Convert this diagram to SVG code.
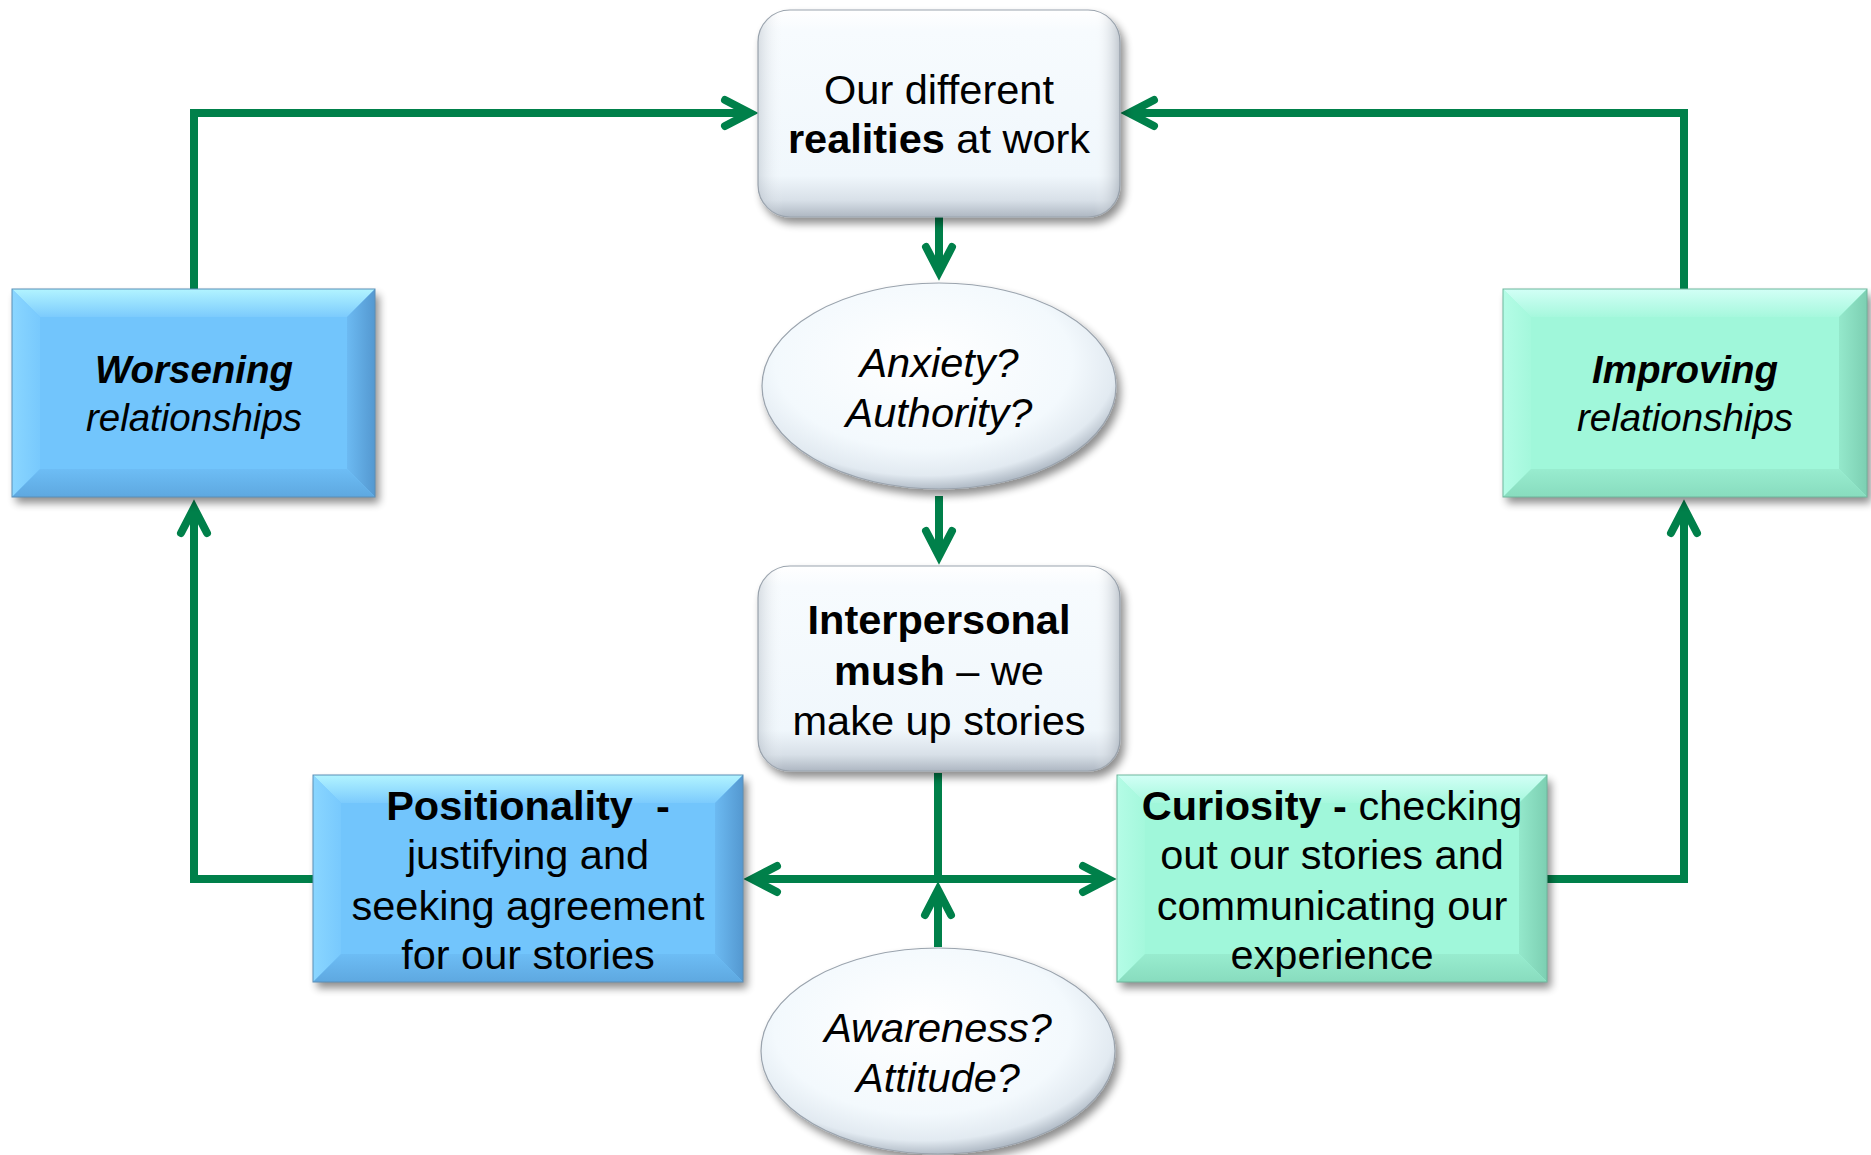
<svg xmlns="http://www.w3.org/2000/svg" width="1871" height="1155" viewBox="0 0 1871 1155">
<defs>
<style>
.t{font-family:"Liberation Sans",Arial,sans-serif;font-size:41.5px;fill:#000;text-anchor:middle}
.s{font-size:38.5px}
.b{font-weight:bold}
.i{font-style:italic}
.con{fill:none;stroke:#00804a;stroke-width:8;stroke-linejoin:miter;marker-end:url(#arr)}
.conp{fill:none;stroke:#00804a;stroke-width:8}
.wbox{fill:url(#gW);stroke:#9aa3ad;stroke-width:1.2}
.wov{fill:url(#gWh);stroke:none}
.ell{fill:url(#gE);stroke:#9aa3ad;stroke-width:1.2}
</style>
<filter id="sh" x="-10%" y="-10%" width="125%" height="135%">
<feGaussianBlur in="SourceAlpha" stdDeviation="4"/>
<feOffset dx="4" dy="6"/>
<feComponentTransfer><feFuncA type="linear" slope="0.45"/></feComponentTransfer>
<feMerge><feMergeNode/><feMergeNode in="SourceGraphic"/></feMerge>
</filter>
<linearGradient id="gW" x1="0" y1="0" x2="0" y2="1">
<stop offset="0" stop-color="#ffffff"/>
<stop offset="0.1" stop-color="#f7fbfe"/>
<stop offset="0.8" stop-color="#f0f7fc"/>
<stop offset="0.92" stop-color="#d8e0e8"/>
<stop offset="1" stop-color="#aeb7c2"/>
</linearGradient>
<linearGradient id="gWh" x1="0" y1="0" x2="1" y2="0">
<stop offset="0" stop-color="#8e98a4" stop-opacity="0.3"/>
<stop offset="0.07" stop-color="#ffffff" stop-opacity="0"/>
<stop offset="0.93" stop-color="#ffffff" stop-opacity="0"/>
<stop offset="1" stop-color="#7f8995" stop-opacity="0.45"/>
</linearGradient>
<radialGradient id="gE" cx="0.46" cy="0.4" r="0.6" fx="0.45" fy="0.35">
<stop offset="0" stop-color="#ffffff"/>
<stop offset="0.7" stop-color="#f3f9fd"/>
<stop offset="0.9" stop-color="#e2eaf1"/>
<stop offset="1" stop-color="#b3bdc8"/>
</radialGradient>
<linearGradient id="bT" x1="0" y1="0" x2="0" y2="1"><stop offset="0" stop-color="#b2f4ff"/><stop offset="1" stop-color="#7ccbfd"/></linearGradient>
<linearGradient id="bL" x1="0" y1="0" x2="1" y2="0"><stop offset="0" stop-color="#8ad6ff"/><stop offset="1" stop-color="#78c9fd"/></linearGradient>
<linearGradient id="bR" x1="0" y1="0" x2="1" y2="0"><stop offset="0" stop-color="#6cbaf2"/><stop offset="1" stop-color="#5498d0"/></linearGradient>
<linearGradient id="bB" x1="0" y1="0" x2="0" y2="1"><stop offset="0" stop-color="#6dbdf5"/><stop offset="1" stop-color="#5ea8e0"/></linearGradient>
<linearGradient id="gT" x1="0" y1="0" x2="0" y2="1"><stop offset="0" stop-color="#d2fff6"/><stop offset="1" stop-color="#a6f8dd"/></linearGradient>
<linearGradient id="gL" x1="0" y1="0" x2="1" y2="0"><stop offset="0" stop-color="#b4fce6"/><stop offset="1" stop-color="#a4f8dc"/></linearGradient>
<linearGradient id="gR" x1="0" y1="0" x2="1" y2="0"><stop offset="0" stop-color="#94e8cb"/><stop offset="1" stop-color="#7ccfb2"/></linearGradient>
<linearGradient id="gB" x1="0" y1="0" x2="0" y2="1"><stop offset="0" stop-color="#98eccf"/><stop offset="1" stop-color="#88dcbe"/></linearGradient>
<marker id="arr" markerUnits="userSpaceOnUse" viewBox="-45 -25 50 50" markerWidth="50" markerHeight="50" refX="-10" refY="0" orient="auto" overflow="visible">
<path d="M-34,-13 L-9,0 L-34,13" fill="none" stroke="#00804a" stroke-width="8" stroke-linecap="round" stroke-linejoin="miter"/>
</marker>
</defs>
<rect width="1871" height="1155" fill="#ffffff"/>

<g id="connectors">
<path class="con" d="M939,214 V271"/>
<path class="con" d="M939,496 V555"/>
<path class="conp" d="M938,773 V879"/>
<path class="con" d="M938,879 H753"/>
<path class="con" d="M938,879 H1107"/>
<path class="con" d="M938,947 V891"/>
<path class="con" d="M313,879 H194 V509"/>
<path class="con" d="M194,289 V113 H749"/>
<path class="con" d="M1547,879 H1684 V509"/>
<path class="con" d="M1684,289 V113 H1130"/>
</g>

<g id="top-box">
<rect class="wbox" x="758" y="10" width="362" height="207" rx="32" filter="url(#sh)"/>
<rect class="wov" x="758" y="10" width="362" height="207" rx="32"/>
<text class="t"><tspan x="939" y="104">Our different</tspan><tspan x="939" y="153"><tspan class="b">realities</tspan> at work</tspan></text>
</g>

<g id="ellipse-anxiety">
<ellipse class="ell" cx="939" cy="386" rx="177" ry="103" filter="url(#sh)"/>
<text class="t i"><tspan x="939" y="377">Anxiety?</tspan><tspan x="939" y="427">Authority?</tspan></text>
</g>

<g id="mid-box">
<rect class="wbox" x="758" y="566" width="362" height="205" rx="32" filter="url(#sh)"/>
<rect class="wov" x="758" y="566" width="362" height="205" rx="32"/>
<text class="t"><tspan x="939" y="634" class="b">Interpersonal</tspan><tspan x="939" y="685"><tspan class="b">mush</tspan> – we</tspan><tspan x="939" y="735">make up stories</tspan></text>
</g>

<g id="worsening">
<rect x="12" y="289" width="363" height="208" fill="#72c5fc" filter="url(#sh)"/>
<polygon points="12,289 375,289 347,317 40,317" fill="url(#bT)"/>
<polygon points="12,289 40,317 40,469 12,497" fill="url(#bL)"/>
<polygon points="375,289 375,497 347,469 347,317" fill="url(#bR)"/>
<polygon points="12,497 40,469 347,469 375,497" fill="url(#bB)"/>
<rect x="12" y="289" width="363" height="208" fill="none" stroke="#5b8fb8" stroke-width="1"/>
<text class="t s i"><tspan x="194" y="383" class="b">Worsening</tspan><tspan x="194" y="431">relationships</tspan></text>
</g>

<g id="improving">
<rect x="1503" y="289" width="364" height="208" fill="#a0f7da" filter="url(#sh)"/>
<polygon points="1503,289 1867,289 1839,317 1531,317" fill="url(#gT)"/>
<polygon points="1503,289 1531,317 1531,469 1503,497" fill="url(#gL)"/>
<polygon points="1867,289 1867,497 1839,469 1839,317" fill="url(#gR)"/>
<polygon points="1503,497 1531,469 1839,469 1867,497" fill="url(#gB)"/>
<rect x="1503" y="289" width="364" height="208" fill="none" stroke="#6fb79d" stroke-width="1"/>
<text class="t s i"><tspan x="1685" y="383" class="b">Improving</tspan><tspan x="1685" y="431">relationships</tspan></text>
</g>

<g id="positionality">
<rect x="313" y="775" width="430" height="207" fill="#72c5fc" filter="url(#sh)"/>
<polygon points="313,775 743,775 715,803 341,803" fill="url(#bT)"/>
<polygon points="313,775 341,803 341,954 313,982" fill="url(#bL)"/>
<polygon points="743,775 743,982 715,954 715,803" fill="url(#bR)"/>
<polygon points="313,982 341,954 715,954 743,982" fill="url(#bB)"/>
<rect x="313" y="775" width="430" height="207" fill="none" stroke="#5b8fb8" stroke-width="1"/>
<text class="t b" xml:space="preserve" x="528" y="820">Positionality  -</text>
<text class="t"><tspan x="528" y="869">justifying and</tspan><tspan x="528" y="920">seeking agreement</tspan><tspan x="528" y="969">for our stories</tspan></text>
</g>

<g id="curiosity">
<rect x="1117" y="775" width="430" height="207" fill="#a0f7da" filter="url(#sh)"/>
<polygon points="1117,775 1547,775 1519,803 1145,803" fill="url(#gT)"/>
<polygon points="1117,775 1145,803 1145,954 1117,982" fill="url(#gL)"/>
<polygon points="1547,775 1547,982 1519,954 1519,803" fill="url(#gR)"/>
<polygon points="1117,982 1145,954 1519,954 1547,982" fill="url(#gB)"/>
<rect x="1117" y="775" width="430" height="207" fill="none" stroke="#6fb79d" stroke-width="1"/>
<text class="t"><tspan x="1332" y="820"><tspan class="b">Curiosity -</tspan> checking</tspan><tspan x="1332" y="869">out our stories and</tspan><tspan x="1332" y="920">communicating our</tspan><tspan x="1332" y="969">experience</tspan></text>
</g>

<g id="ellipse-awareness">
<ellipse class="ell" cx="938" cy="1051" rx="177" ry="103" filter="url(#sh)"/>
<text class="t i"><tspan x="938" y="1042">Awareness?</tspan><tspan x="938" y="1092">Attitude?</tspan></text>
</g>
</svg>
